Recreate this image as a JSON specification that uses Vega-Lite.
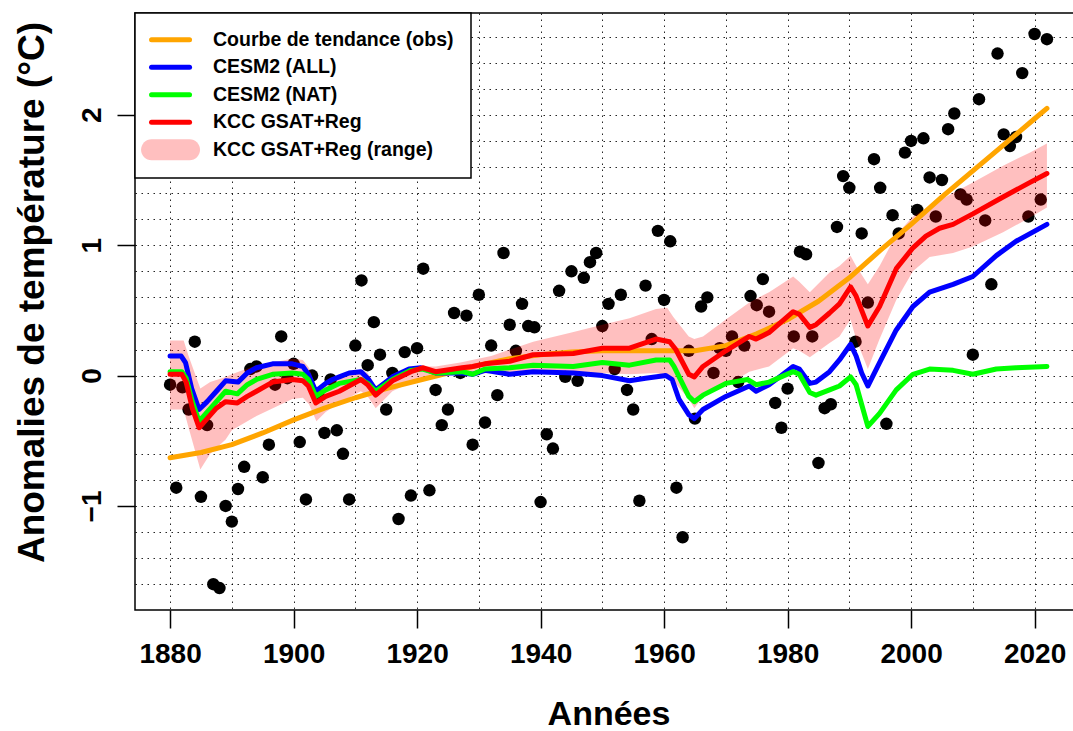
{
  "$schema": "https://vega.github.io/schema/vega-lite/v6.json",
  "width": 947,
  "height": 597,
  "autosize": {"type": "none"},
  "padding": {"left": 135, "top": 13, "right": -9, "bottom": 121},
  "background": "white",
  "config": {
    "font": "Liberation Sans",
    "view": {"stroke": "black", "strokeWidth": 1.5},
    "axis": {
      "domain": false, "gridColor": "black", "gridDash": [1.5, 4.5], "gridWidth": 1, "gridOpacity": 0.85,
      "tickColor": "black", "tickWidth": 1.5, "tickSize": 18,
      "labelColor": "black", "labelFont": "Liberation Sans", "labelFontWeight": "bold", "labelFontSize": 28,
      "titleFont": "Liberation Sans", "titleFontWeight": "bold", "titleFontSize": 34, "titleColor": "black",
      "labelOverlap": false, "labelFlush": false, "labelBound": false
    }
  },
  "datasets": {
    "obs": [
      {"year":1880,"anomaly":-0.07},{"year":1881,"anomaly":-0.86},{"year":1882,"anomaly":-0.09},{"year":1883,"anomaly":-0.26},{"year":1884,"anomaly":0.26},
      {"year":1885,"anomaly":-0.93},{"year":1886,"anomaly":-0.38},{"year":1887,"anomaly":-1.60},{"year":1888,"anomaly":-1.63},{"year":1889,"anomaly":-1.00},
      {"year":1890,"anomaly":-1.12},{"year":1891,"anomaly":-0.87},{"year":1892,"anomaly":-0.70},{"year":1893,"anomaly":0.05},{"year":1894,"anomaly":0.07},
      {"year":1895,"anomaly":-0.78},{"year":1896,"anomaly":-0.53},{"year":1897,"anomaly":-0.07},{"year":1898,"anomaly":0.30},{"year":1899,"anomaly":-0.02},
      {"year":1900,"anomaly":0.09},{"year":1901,"anomaly":-0.51},{"year":1902,"anomaly":-0.95},{"year":1903,"anomaly":0.00},{"year":1904,"anomaly":-0.15},
      {"year":1905,"anomaly":-0.44},{"year":1906,"anomaly":-0.03},{"year":1907,"anomaly":-0.42},{"year":1908,"anomaly":-0.60},{"year":1909,"anomaly":-0.95},
      {"year":1910,"anomaly":0.23},{"year":1911,"anomaly":0.73},{"year":1912,"anomaly":0.08},{"year":1913,"anomaly":0.41},{"year":1914,"anomaly":0.16},
      {"year":1915,"anomaly":-0.26},{"year":1916,"anomaly":0.02},{"year":1917,"anomaly":-1.10},{"year":1918,"anomaly":0.18},{"year":1919,"anomaly":-0.92},
      {"year":1920,"anomaly":0.21},{"year":1921,"anomaly":0.82},{"year":1922,"anomaly":-0.88},{"year":1923,"anomaly":-0.11},{"year":1924,"anomaly":-0.38},
      {"year":1925,"anomaly":-0.26},{"year":1926,"anomaly":0.48},{"year":1927,"anomaly":0.02},{"year":1928,"anomaly":0.46},{"year":1929,"anomaly":-0.53},
      {"year":1930,"anomaly":0.62},{"year":1931,"anomaly":-0.36},{"year":1932,"anomaly":0.23},{"year":1933,"anomaly":-0.15},{"year":1934,"anomaly":0.94},
      {"year":1935,"anomaly":0.39},{"year":1936,"anomaly":0.19},{"year":1937,"anomaly":0.55},{"year":1938,"anomaly":0.38},{"year":1939,"anomaly":0.37},
      {"year":1940,"anomaly":-0.97},{"year":1941,"anomaly":-0.45},{"year":1942,"anomaly":-0.56},{"year":1943,"anomaly":0.65},{"year":1944,"anomaly":-0.01},
      {"year":1945,"anomaly":0.80},{"year":1946,"anomaly":-0.04},{"year":1947,"anomaly":0.75},{"year":1948,"anomaly":0.87},{"year":1949,"anomaly":0.94},
      {"year":1950,"anomaly":0.38},{"year":1951,"anomaly":0.55},{"year":1952,"anomaly":0.05},{"year":1953,"anomaly":0.62},{"year":1954,"anomaly":-0.11},
      {"year":1955,"anomaly":-0.26},{"year":1956,"anomaly":-0.96},{"year":1957,"anomaly":0.69},{"year":1958,"anomaly":0.28},{"year":1959,"anomaly":1.11},
      {"year":1960,"anomaly":0.58},{"year":1961,"anomaly":1.03},{"year":1962,"anomaly":-0.86},{"year":1963,"anomaly":-1.24},{"year":1964,"anomaly":0.19},
      {"year":1965,"anomaly":-0.33},{"year":1966,"anomaly":0.53},{"year":1967,"anomaly":0.60},{"year":1968,"anomaly":0.02},{"year":1969,"anomaly":0.21},
      {"year":1970,"anomaly":0.19},{"year":1971,"anomaly":0.30},{"year":1972,"anomaly":-0.05},{"year":1973,"anomaly":0.23},{"year":1974,"anomaly":0.61},
      {"year":1975,"anomaly":0.54},{"year":1976,"anomaly":0.74},{"year":1977,"anomaly":0.49},{"year":1978,"anomaly":-0.21},{"year":1979,"anomaly":-0.40},
      {"year":1980,"anomaly":-0.10},{"year":1981,"anomaly":0.30},{"year":1982,"anomaly":0.95},{"year":1983,"anomaly":0.93},{"year":1984,"anomaly":0.30},
      {"year":1985,"anomaly":-0.67},{"year":1986,"anomaly":-0.25},{"year":1987,"anomaly":-0.22},{"year":1988,"anomaly":1.14},{"year":1989,"anomaly":1.53},
      {"year":1990,"anomaly":1.44},{"year":1991,"anomaly":0.26},{"year":1992,"anomaly":1.09},{"year":1993,"anomaly":0.56},{"year":1994,"anomaly":1.66},
      {"year":1995,"anomaly":1.44},{"year":1996,"anomaly":-0.37},{"year":1997,"anomaly":1.23},{"year":1998,"anomaly":1.09},{"year":1999,"anomaly":1.71},
      {"year":2000,"anomaly":1.80},{"year":2001,"anomaly":1.27},{"year":2002,"anomaly":1.82},{"year":2003,"anomaly":1.52},{"year":2004,"anomaly":1.22},
      {"year":2005,"anomaly":1.50},{"year":2006,"anomaly":1.89},{"year":2007,"anomaly":2.01},{"year":2008,"anomaly":1.39},{"year":2009,"anomaly":1.35},
      {"year":2010,"anomaly":0.16},{"year":2011,"anomaly":2.12},{"year":2012,"anomaly":1.19},{"year":2013,"anomaly":0.70},{"year":2014,"anomaly":2.47},
      {"year":2015,"anomaly":1.85},{"year":2016,"anomaly":1.76},{"year":2017,"anomaly":1.83},{"year":2018,"anomaly":2.32},{"year":2019,"anomaly":1.22},
      {"year":2020,"anomaly":2.62},{"year":2021,"anomaly":1.35},{"year":2022,"anomaly":2.58}
    ],
    "band": [
      {"year":1880,"lo":-0.26,"hi":0.27},{"year":1882.2,"lo":-0.26,"hi":0.27},{"year":1883,"lo":-0.40,"hi":0.15},{"year":1884.9,"lo":-0.72,"hi":-0.10},
      {"year":1886.5,"lo":-0.60,"hi":-0.05},{"year":1889,"lo":-0.49,"hi":-0.01},{"year":1890,"lo":-0.42,"hi":0.01},{"year":1894,"lo":-0.31,"hi":0.08},
      {"year":1899.8,"lo":-0.18,"hi":0.13},{"year":1901.5,"lo":-0.17,"hi":0.12},{"year":1902.5,"lo":-0.22,"hi":0.06},{"year":1903.7,"lo":-0.35,"hi":-0.10},
      {"year":1905.2,"lo":-0.28,"hi":-0.06},{"year":1907.4,"lo":-0.21,"hi":-0.02},{"year":1910.9,"lo":-0.12,"hi":0.05},{"year":1912,"lo":-0.16,"hi":0.02},
      {"year":1913.3,"lo":-0.25,"hi":-0.08},{"year":1916,"lo":-0.12,"hi":0.00},{"year":1920,"lo":-0.03,"hi":0.07},{"year":1923,"lo":0.00,"hi":0.07},
      {"year":1927,"lo":0.01,"hi":0.10},{"year":1932,"lo":0.02,"hi":0.15},{"year":1938.8,"lo":0.03,"hi":0.26},{"year":1945,"lo":0.02,"hi":0.33},
      {"year":1950,"lo":0.02,"hi":0.39},{"year":1954.4,"lo":0.01,"hi":0.44},{"year":1958.7,"lo":0.02,"hi":0.51},{"year":1960.5,"lo":0.00,"hi":0.52},
      {"year":1961.5,"lo":-0.04,"hi":0.45},{"year":1964,"lo":-0.18,"hi":0.30},{"year":1964.9,"lo":-0.25,"hi":0.28},{"year":1966.3,"lo":-0.16,"hi":0.30},
      {"year":1970,"lo":-0.08,"hi":0.43},{"year":1973.8,"lo":0.03,"hi":0.56},{"year":1977,"lo":0.07,"hi":0.64},{"year":1980.9,"lo":0.21,"hi":0.76},
      {"year":1981.9,"lo":0.19,"hi":0.72},{"year":1983.6,"lo":0.14,"hi":0.64},{"year":1986.8,"lo":0.25,"hi":0.79},{"year":1988.4,"lo":0.30,"hi":0.84},
      {"year":1990.2,"lo":0.43,"hi":0.92},{"year":1991.1,"lo":0.28,"hi":0.84},{"year":1993,"lo":0.05,"hi":0.70},{"year":1994.9,"lo":0.28,"hi":0.84},
      {"year":1997.6,"lo":0.58,"hi":1.08},{"year":2000.3,"lo":0.80,"hi":1.22},{"year":2003,"lo":0.91,"hi":1.30},{"year":2006.8,"lo":0.94,"hi":1.40},
      {"year":2010,"lo":0.99,"hi":1.48},{"year":2014.9,"lo":1.10,"hi":1.61},{"year":2019.2,"lo":1.21,"hi":1.71},{"year":2022,"lo":1.29,"hi":1.78}
    ],
    "lines": [
      {"series":"Courbe de tendance (obs)","year":1880,"anomaly":-0.63},{"series":"Courbe de tendance (obs)","year":1885,"anomaly":-0.59},
      {"series":"Courbe de tendance (obs)","year":1890,"anomaly":-0.53},{"series":"Courbe de tendance (obs)","year":1895,"anomaly":-0.44},
      {"series":"Courbe de tendance (obs)","year":1900,"anomaly":-0.34},{"series":"Courbe de tendance (obs)","year":1905,"anomaly":-0.25},
      {"series":"Courbe de tendance (obs)","year":1910,"anomaly":-0.17},{"series":"Courbe de tendance (obs)","year":1915,"anomaly":-0.10},
      {"series":"Courbe de tendance (obs)","year":1920,"anomaly":-0.04},{"series":"Courbe de tendance (obs)","year":1925,"anomaly":0.02},
      {"series":"Courbe de tendance (obs)","year":1930,"anomaly":0.08},{"series":"Courbe de tendance (obs)","year":1935,"anomaly":0.13},
      {"series":"Courbe de tendance (obs)","year":1940,"anomaly":0.16},{"series":"Courbe de tendance (obs)","year":1945,"anomaly":0.18},
      {"series":"Courbe de tendance (obs)","year":1950,"anomaly":0.19},{"series":"Courbe de tendance (obs)","year":1955,"anomaly":0.19},
      {"series":"Courbe de tendance (obs)","year":1960,"anomaly":0.19},{"series":"Courbe de tendance (obs)","year":1965,"anomaly":0.19},
      {"series":"Courbe de tendance (obs)","year":1970,"anomaly":0.23},{"series":"Courbe de tendance (obs)","year":1975,"anomaly":0.32},
      {"series":"Courbe de tendance (obs)","year":1980,"anomaly":0.43},{"series":"Courbe de tendance (obs)","year":1985,"anomaly":0.57},
      {"series":"Courbe de tendance (obs)","year":1990,"anomaly":0.75},{"series":"Courbe de tendance (obs)","year":1995,"anomaly":0.96},
      {"series":"Courbe de tendance (obs)","year":2000,"anomaly":1.16},{"series":"Courbe de tendance (obs)","year":2005,"anomaly":1.37},
      {"series":"Courbe de tendance (obs)","year":2010,"anomaly":1.57},{"series":"Courbe de tendance (obs)","year":2015,"anomaly":1.77},
      {"series":"Courbe de tendance (obs)","year":2020,"anomaly":1.97},{"series":"Courbe de tendance (obs)","year":2022,"anomaly":2.05},

      {"series":"CESM2 (ALL)","year":1880,"anomaly":0.15},{"series":"CESM2 (ALL)","year":1881.8,"anomaly":0.15},{"series":"CESM2 (ALL)","year":1882.5,"anomaly":0.10},
      {"series":"CESM2 (ALL)","year":1883.5,"anomaly":-0.10},{"series":"CESM2 (ALL)","year":1884.7,"anomaly":-0.26},{"series":"CESM2 (ALL)","year":1886,"anomaly":-0.20},
      {"series":"CESM2 (ALL)","year":1887.5,"anomaly":-0.12},{"series":"CESM2 (ALL)","year":1889,"anomaly":-0.04},{"series":"CESM2 (ALL)","year":1891,"anomaly":-0.05},
      {"series":"CESM2 (ALL)","year":1892.5,"anomaly":0.02},{"series":"CESM2 (ALL)","year":1894,"anomaly":0.06},{"series":"CESM2 (ALL)","year":1896.6,"anomaly":0.09},
      {"series":"CESM2 (ALL)","year":1899.8,"anomaly":0.09},{"series":"CESM2 (ALL)","year":1901.5,"anomaly":0.07},{"series":"CESM2 (ALL)","year":1902.4,"anomaly":0.01},
      {"series":"CESM2 (ALL)","year":1903.6,"anomaly":-0.12},{"series":"CESM2 (ALL)","year":1905.2,"anomaly":-0.06},{"series":"CESM2 (ALL)","year":1906.3,"anomaly":-0.03},
      {"series":"CESM2 (ALL)","year":1907.4,"anomaly":-0.01},{"series":"CESM2 (ALL)","year":1909,"anomaly":0.02},{"series":"CESM2 (ALL)","year":1910.9,"anomaly":0.03},
      {"series":"CESM2 (ALL)","year":1912,"anomaly":-0.02},{"series":"CESM2 (ALL)","year":1913.3,"anomaly":-0.11},{"series":"CESM2 (ALL)","year":1916,"anomaly":-0.01},
      {"series":"CESM2 (ALL)","year":1918.7,"anomaly":0.05},{"series":"CESM2 (ALL)","year":1920.6,"anomaly":0.06},{"series":"CESM2 (ALL)","year":1923,"anomaly":0.02},
      {"series":"CESM2 (ALL)","year":1927.3,"anomaly":0.02},{"series":"CESM2 (ALL)","year":1929,"anomaly":0.01},{"series":"CESM2 (ALL)","year":1931,"anomaly":0.04},
      {"series":"CESM2 (ALL)","year":1935,"anomaly":0.01},{"series":"CESM2 (ALL)","year":1938.8,"anomaly":0.03},{"series":"CESM2 (ALL)","year":1945.3,"anomaly":0.02},
      {"series":"CESM2 (ALL)","year":1950,"anomaly":0.00},{"series":"CESM2 (ALL)","year":1954.4,"anomaly":-0.04},{"series":"CESM2 (ALL)","year":1957,"anomaly":-0.02},
      {"series":"CESM2 (ALL)","year":1960.3,"anomaly":0.00},{"series":"CESM2 (ALL)","year":1961.3,"anomaly":-0.03},{"series":"CESM2 (ALL)","year":1962.4,"anomaly":-0.18},
      {"series":"CESM2 (ALL)","year":1964,"anomaly":-0.30},{"series":"CESM2 (ALL)","year":1964.9,"anomaly":-0.33},{"series":"CESM2 (ALL)","year":1966.3,"anomaly":-0.26},
      {"series":"CESM2 (ALL)","year":1970,"anomaly":-0.16},{"series":"CESM2 (ALL)","year":1971.9,"anomaly":-0.12},{"series":"CESM2 (ALL)","year":1973.8,"anomaly":-0.08},
      {"series":"CESM2 (ALL)","year":1974.9,"anomaly":-0.12},{"series":"CESM2 (ALL)","year":1977,"anomaly":-0.07},{"series":"CESM2 (ALL)","year":1979,"anomaly":0.00},
      {"series":"CESM2 (ALL)","year":1980.9,"anomaly":0.07},{"series":"CESM2 (ALL)","year":1981.9,"anomaly":0.05},{"series":"CESM2 (ALL)","year":1983.6,"anomaly":-0.06},
      {"series":"CESM2 (ALL)","year":1984.6,"anomaly":-0.05},{"series":"CESM2 (ALL)","year":1986.8,"anomaly":0.03},{"series":"CESM2 (ALL)","year":1988.4,"anomaly":0.12},
      {"series":"CESM2 (ALL)","year":1990.2,"anomaly":0.24},{"series":"CESM2 (ALL)","year":1991.1,"anomaly":0.15},{"series":"CESM2 (ALL)","year":1992,"anomaly":0.02},
      {"series":"CESM2 (ALL)","year":1993,"anomaly":-0.08},{"series":"CESM2 (ALL)","year":1994.9,"anomaly":0.10},{"series":"CESM2 (ALL)","year":1997.6,"anomaly":0.35},
      {"series":"CESM2 (ALL)","year":2000.3,"anomaly":0.53},{"series":"CESM2 (ALL)","year":2003,"anomaly":0.64},{"series":"CESM2 (ALL)","year":2006.8,"anomaly":0.70},
      {"series":"CESM2 (ALL)","year":2010,"anomaly":0.76},{"series":"CESM2 (ALL)","year":2013.8,"anomaly":0.92},{"series":"CESM2 (ALL)","year":2017,"anomaly":1.03},
      {"series":"CESM2 (ALL)","year":2022,"anomaly":1.16},

      {"series":"CESM2 (NAT)","year":1880,"anomaly":0.03},{"series":"CESM2 (NAT)","year":1881.9,"anomaly":0.03},{"series":"CESM2 (NAT)","year":1882.6,"anomaly":-0.02},
      {"series":"CESM2 (NAT)","year":1883.6,"anomaly":-0.20},{"series":"CESM2 (NAT)","year":1884.7,"anomaly":-0.35},{"series":"CESM2 (NAT)","year":1886,"anomaly":-0.28},
      {"series":"CESM2 (NAT)","year":1887.5,"anomaly":-0.20},{"series":"CESM2 (NAT)","year":1889,"anomaly":-0.12},{"series":"CESM2 (NAT)","year":1890.9,"anomaly":-0.14},
      {"series":"CESM2 (NAT)","year":1892.5,"anomaly":-0.07},{"series":"CESM2 (NAT)","year":1894,"anomaly":-0.03},{"series":"CESM2 (NAT)","year":1896.6,"anomaly":0.01},
      {"series":"CESM2 (NAT)","year":1899.8,"anomaly":0.02},{"series":"CESM2 (NAT)","year":1901.5,"anomaly":0.01},{"series":"CESM2 (NAT)","year":1902.4,"anomaly":-0.03},
      {"series":"CESM2 (NAT)","year":1903.6,"anomaly":-0.16},{"series":"CESM2 (NAT)","year":1905.2,"anomaly":-0.11},{"series":"CESM2 (NAT)","year":1907.4,"anomaly":-0.06},
      {"series":"CESM2 (NAT)","year":1910.9,"anomaly":-0.03},{"series":"CESM2 (NAT)","year":1912,"anomaly":-0.06},{"series":"CESM2 (NAT)","year":1913.3,"anomaly":-0.12},
      {"series":"CESM2 (NAT)","year":1916,"anomaly":-0.03},{"series":"CESM2 (NAT)","year":1919,"anomaly":0.04},{"series":"CESM2 (NAT)","year":1920.9,"anomaly":0.05},
      {"series":"CESM2 (NAT)","year":1923,"anomaly":0.02},{"series":"CESM2 (NAT)","year":1927.3,"anomaly":0.03},{"series":"CESM2 (NAT)","year":1929,"anomaly":0.01},
      {"series":"CESM2 (NAT)","year":1931,"anomaly":0.05},{"series":"CESM2 (NAT)","year":1935,"anomaly":0.06},{"series":"CESM2 (NAT)","year":1938.8,"anomaly":0.08},
      {"series":"CESM2 (NAT)","year":1945.3,"anomaly":0.07},{"series":"CESM2 (NAT)","year":1950,"anomaly":0.10},{"series":"CESM2 (NAT)","year":1954.4,"anomaly":0.08},
      {"series":"CESM2 (NAT)","year":1958.7,"anomaly":0.12},{"series":"CESM2 (NAT)","year":1960.9,"anomaly":0.12},{"series":"CESM2 (NAT)","year":1961.6,"anomaly":0.07},
      {"series":"CESM2 (NAT)","year":1964,"anomaly":-0.16},{"series":"CESM2 (NAT)","year":1964.9,"anomaly":-0.20},{"series":"CESM2 (NAT)","year":1966.3,"anomaly":-0.15},
      {"series":"CESM2 (NAT)","year":1970,"anomaly":-0.06},{"series":"CESM2 (NAT)","year":1973.5,"anomaly":-0.03},{"series":"CESM2 (NAT)","year":1974.9,"anomaly":-0.07},
      {"series":"CESM2 (NAT)","year":1977,"anomaly":-0.05},{"series":"CESM2 (NAT)","year":1980.9,"anomaly":0.03},{"series":"CESM2 (NAT)","year":1981.9,"anomaly":0.01},
      {"series":"CESM2 (NAT)","year":1983.6,"anomaly":-0.13},{"series":"CESM2 (NAT)","year":1984.6,"anomaly":-0.15},{"series":"CESM2 (NAT)","year":1986.8,"anomaly":-0.11},
      {"series":"CESM2 (NAT)","year":1988.4,"anomaly":-0.08},{"series":"CESM2 (NAT)","year":1990.2,"anomaly":-0.01},{"series":"CESM2 (NAT)","year":1991.1,"anomaly":-0.07},
      {"series":"CESM2 (NAT)","year":1993,"anomaly":-0.39},{"series":"CESM2 (NAT)","year":1994.9,"anomaly":-0.29},{"series":"CESM2 (NAT)","year":1997.6,"anomaly":-0.11},
      {"series":"CESM2 (NAT)","year":2000.3,"anomaly":0.01},{"series":"CESM2 (NAT)","year":2003,"anomaly":0.05},{"series":"CESM2 (NAT)","year":2006.8,"anomaly":0.04},
      {"series":"CESM2 (NAT)","year":2010,"anomaly":0.01},{"series":"CESM2 (NAT)","year":2013.8,"anomaly":0.05},{"series":"CESM2 (NAT)","year":2017,"anomaly":0.06},
      {"series":"CESM2 (NAT)","year":2022,"anomaly":0.07},

      {"series":"KCC GSAT+Reg","year":1880,"anomaly":0.01},{"series":"KCC GSAT+Reg","year":1881.9,"anomaly":0.01},{"series":"KCC GSAT+Reg","year":1882.6,"anomaly":-0.05},
      {"series":"KCC GSAT+Reg","year":1883.6,"anomaly":-0.25},{"series":"KCC GSAT+Reg","year":1884.7,"anomaly":-0.40},{"series":"KCC GSAT+Reg","year":1886,"anomaly":-0.33},
      {"series":"KCC GSAT+Reg","year":1887.5,"anomaly":-0.25},{"series":"KCC GSAT+Reg","year":1889,"anomaly":-0.20},{"series":"KCC GSAT+Reg","year":1890.9,"anomaly":-0.21},
      {"series":"KCC GSAT+Reg","year":1892.5,"anomaly":-0.16},{"series":"KCC GSAT+Reg","year":1894,"anomaly":-0.12},{"series":"KCC GSAT+Reg","year":1896.6,"anomaly":-0.05},
      {"series":"KCC GSAT+Reg","year":1899.8,"anomaly":-0.03},{"series":"KCC GSAT+Reg","year":1901.5,"anomaly":-0.04},{"series":"KCC GSAT+Reg","year":1902.4,"anomaly":-0.08},
      {"series":"KCC GSAT+Reg","year":1903.6,"anomaly":-0.21},{"series":"KCC GSAT+Reg","year":1905.2,"anomaly":-0.16},{"series":"KCC GSAT+Reg","year":1907.4,"anomaly":-0.12},
      {"series":"KCC GSAT+Reg","year":1910.9,"anomaly":-0.03},{"series":"KCC GSAT+Reg","year":1912,"anomaly":-0.07},{"series":"KCC GSAT+Reg","year":1913.3,"anomaly":-0.15},
      {"series":"KCC GSAT+Reg","year":1916,"anomaly":-0.04},{"series":"KCC GSAT+Reg","year":1919,"anomaly":0.03},{"series":"KCC GSAT+Reg","year":1920.9,"anomaly":0.06},
      {"series":"KCC GSAT+Reg","year":1923,"anomaly":0.03},{"series":"KCC GSAT+Reg","year":1927.3,"anomaly":0.06},{"series":"KCC GSAT+Reg","year":1929,"anomaly":0.07},
      {"series":"KCC GSAT+Reg","year":1931,"anomaly":0.09},{"series":"KCC GSAT+Reg","year":1935,"anomaly":0.11},{"series":"KCC GSAT+Reg","year":1938.8,"anomaly":0.16},
      {"series":"KCC GSAT+Reg","year":1945.3,"anomaly":0.17},{"series":"KCC GSAT+Reg","year":1950,"anomaly":0.21},{"series":"KCC GSAT+Reg","year":1954.4,"anomaly":0.21},
      {"series":"KCC GSAT+Reg","year":1958.7,"anomaly":0.28},{"series":"KCC GSAT+Reg","year":1960.9,"anomaly":0.26},{"series":"KCC GSAT+Reg","year":1961.9,"anomaly":0.20},
      {"series":"KCC GSAT+Reg","year":1964,"anomaly":0.01},{"series":"KCC GSAT+Reg","year":1964.9,"anomaly":-0.01},{"series":"KCC GSAT+Reg","year":1966.3,"anomaly":0.07},
      {"series":"KCC GSAT+Reg","year":1970,"anomaly":0.19},{"series":"KCC GSAT+Reg","year":1973.8,"anomaly":0.30},{"series":"KCC GSAT+Reg","year":1974.9,"anomaly":0.28},
      {"series":"KCC GSAT+Reg","year":1977,"anomaly":0.33},{"series":"KCC GSAT+Reg","year":1980.9,"anomaly":0.49},{"series":"KCC GSAT+Reg","year":1981.9,"anomaly":0.47},
      {"series":"KCC GSAT+Reg","year":1983.6,"anomaly":0.37},{"series":"KCC GSAT+Reg","year":1984.6,"anomaly":0.39},{"series":"KCC GSAT+Reg","year":1986.8,"anomaly":0.48},
      {"series":"KCC GSAT+Reg","year":1988.4,"anomaly":0.55},{"series":"KCC GSAT+Reg","year":1990.2,"anomaly":0.68},{"series":"KCC GSAT+Reg","year":1991.1,"anomaly":0.61},
      {"series":"KCC GSAT+Reg","year":1993,"anomaly":0.38},{"series":"KCC GSAT+Reg","year":1994.9,"anomaly":0.53},{"series":"KCC GSAT+Reg","year":1997.6,"anomaly":0.82},
      {"series":"KCC GSAT+Reg","year":2000.3,"anomaly":0.98},{"series":"KCC GSAT+Reg","year":2002.4,"anomaly":1.07},{"series":"KCC GSAT+Reg","year":2004.6,"anomaly":1.13},
      {"series":"KCC GSAT+Reg","year":2006.8,"anomaly":1.16},{"series":"KCC GSAT+Reg","year":2010,"anomaly":1.24},{"series":"KCC GSAT+Reg","year":2014.9,"anomaly":1.37},
      {"series":"KCC GSAT+Reg","year":2019.2,"anomaly":1.48},{"series":"KCC GSAT+Reg","year":2022,"anomaly":1.55}
    ]
  },
  "encoding": {
    "x": {
      "field": "year", "type": "quantitative",
      "scale": {"domain": [1874.32, 2027.68], "nice": false, "zero": false},
      "axis": {
        "title": "Années",
        "grid": true,
        "values": [1880, 1890, 1900, 1910, 1920, 1930, 1940, 1950, 1960, 1970, 1980, 1990, 2000, 2010, 2020],
        "labelExpr": "datum.value % 20 === 0 ? format(datum.value, 'd') : ''",
        "tickOpacity": {"condition": {"test": "datum.value % 20 !== 0", "value": 0}, "value": 1},
        "labelOverlap": false,
        "labelPadding": 12,
        "titleY": 114, "titleBaseline": "alphabetic"
      }
    }
  },
  "resolve": {"axis": {"y": "independent"}},
  "layer": [
    {
      "data": {"name": "obs"},
      "mark": {"type": "circle", "color": "black", "size": 155, "opacity": 1},
      "encoding": {
        "y": {
          "field": "anomaly", "type": "quantitative",
          "scale": {"domain": [-1.798, 2.781], "nice": false, "zero": false},
          "axis": {
            "orient": "left",
            "title": "Anomalies de température (°C)",
            "values": [-1, 0, 1, 2],
            "format": "d",
            "grid": false,
            "labelOverlap": false,
            "labelAngle": 270, "labelAlign": "center", "labelBaseline": "alphabetic", "labelPadding": 17,
            "titleFontSize": 37,
            "titleAngle": 270, "titleX": -92, "titleY": 279, "titleBaseline": "alphabetic", "titleAlign": "center"
          }
        }
      }
    },
    {
      "data": {"name": "band"},
      "mark": {"type": "area", "opacity": 0.25},
      "encoding": {
        "y": {
          "field": "lo", "type": "quantitative",
          "axis": {
            "orient": "left", "title": null, "labels": false, "ticks": false, "grid": true,
            "values": [-1.6, -1.4, -1.2, -1, -0.8, -0.6, -0.4, -0.2, 0, 0.2, 0.4, 0.6, 0.8, 1, 1.2, 1.4, 1.6, 1.8, 2, 2.2, 2.4, 2.6]
          }
        },
        "y2": {"field": "hi"},
        "color": {"datum": "KCC GSAT+Reg (range)", "type": "nominal"}
      }
    },
    {
      "data": {"name": "lines"},
      "mark": {"type": "line", "strokeWidth": 5, "strokeCap": "round", "strokeJoin": "round"},
      "encoding": {
        "y": {"field": "anomaly", "type": "quantitative", "axis": null},
        "color": {
          "field": "series", "type": "nominal",
          "scale": {
            "domain": ["Courbe de tendance (obs)", "CESM2 (ALL)", "CESM2 (NAT)", "KCC GSAT+Reg", "KCC GSAT+Reg (range)"],
            "range": ["#ffa500", "#0000ff", "#00ff00", "#ff0000", "#ff0000"]
          },
          "legend": {
            "title": null, "orient": "top-left", "offset": 0, "padding": 17,
            "fillColor": "white", "strokeColor": "black",
            "symbolType": "M-2,0H2", "symbolSize": 361, "symbolStrokeWidth": 5,
            "symbolOffset": 8.8, "labelOffset": 32.7, "rowPadding": 6.5,
            "labelFont": "Liberation Sans", "labelFontSize": 19.5, "labelFontWeight": "bold", "labelColor": "black", "labelLimit": 800,
            "encode": {
              "entries": {"update": {"width": {"value": 379}}},
              "symbols": {"update": {
                "shape": {"signal": "datum.value === 'KCC GSAT+Reg (range)' ? 'M-2,-1.105H2A1.105,1.105,0,0,1,2,1.105H-2A1.105,1.105,0,0,1,-2,-1.105Z' : 'M-2,0H2'"},
                "strokeWidth": {"signal": "datum.value === 'KCC GSAT+Reg (range)' ? 0 : 5"},
                "strokeCap": {"value": "round"},
                "strokeJoin": {"value": "round"},
                "fill": {"signal": "datum.value === 'KCC GSAT+Reg (range)' ? '#ff0000' : 'transparent'"},
                "fillOpacity": {"value": 0.25},
                "opacity": {"value": 1}
              }},
              "legend": {"update": {"strokeWidth": {"value": 1.5}}}
            }
          }
        }
      }
    }
  ]
}
